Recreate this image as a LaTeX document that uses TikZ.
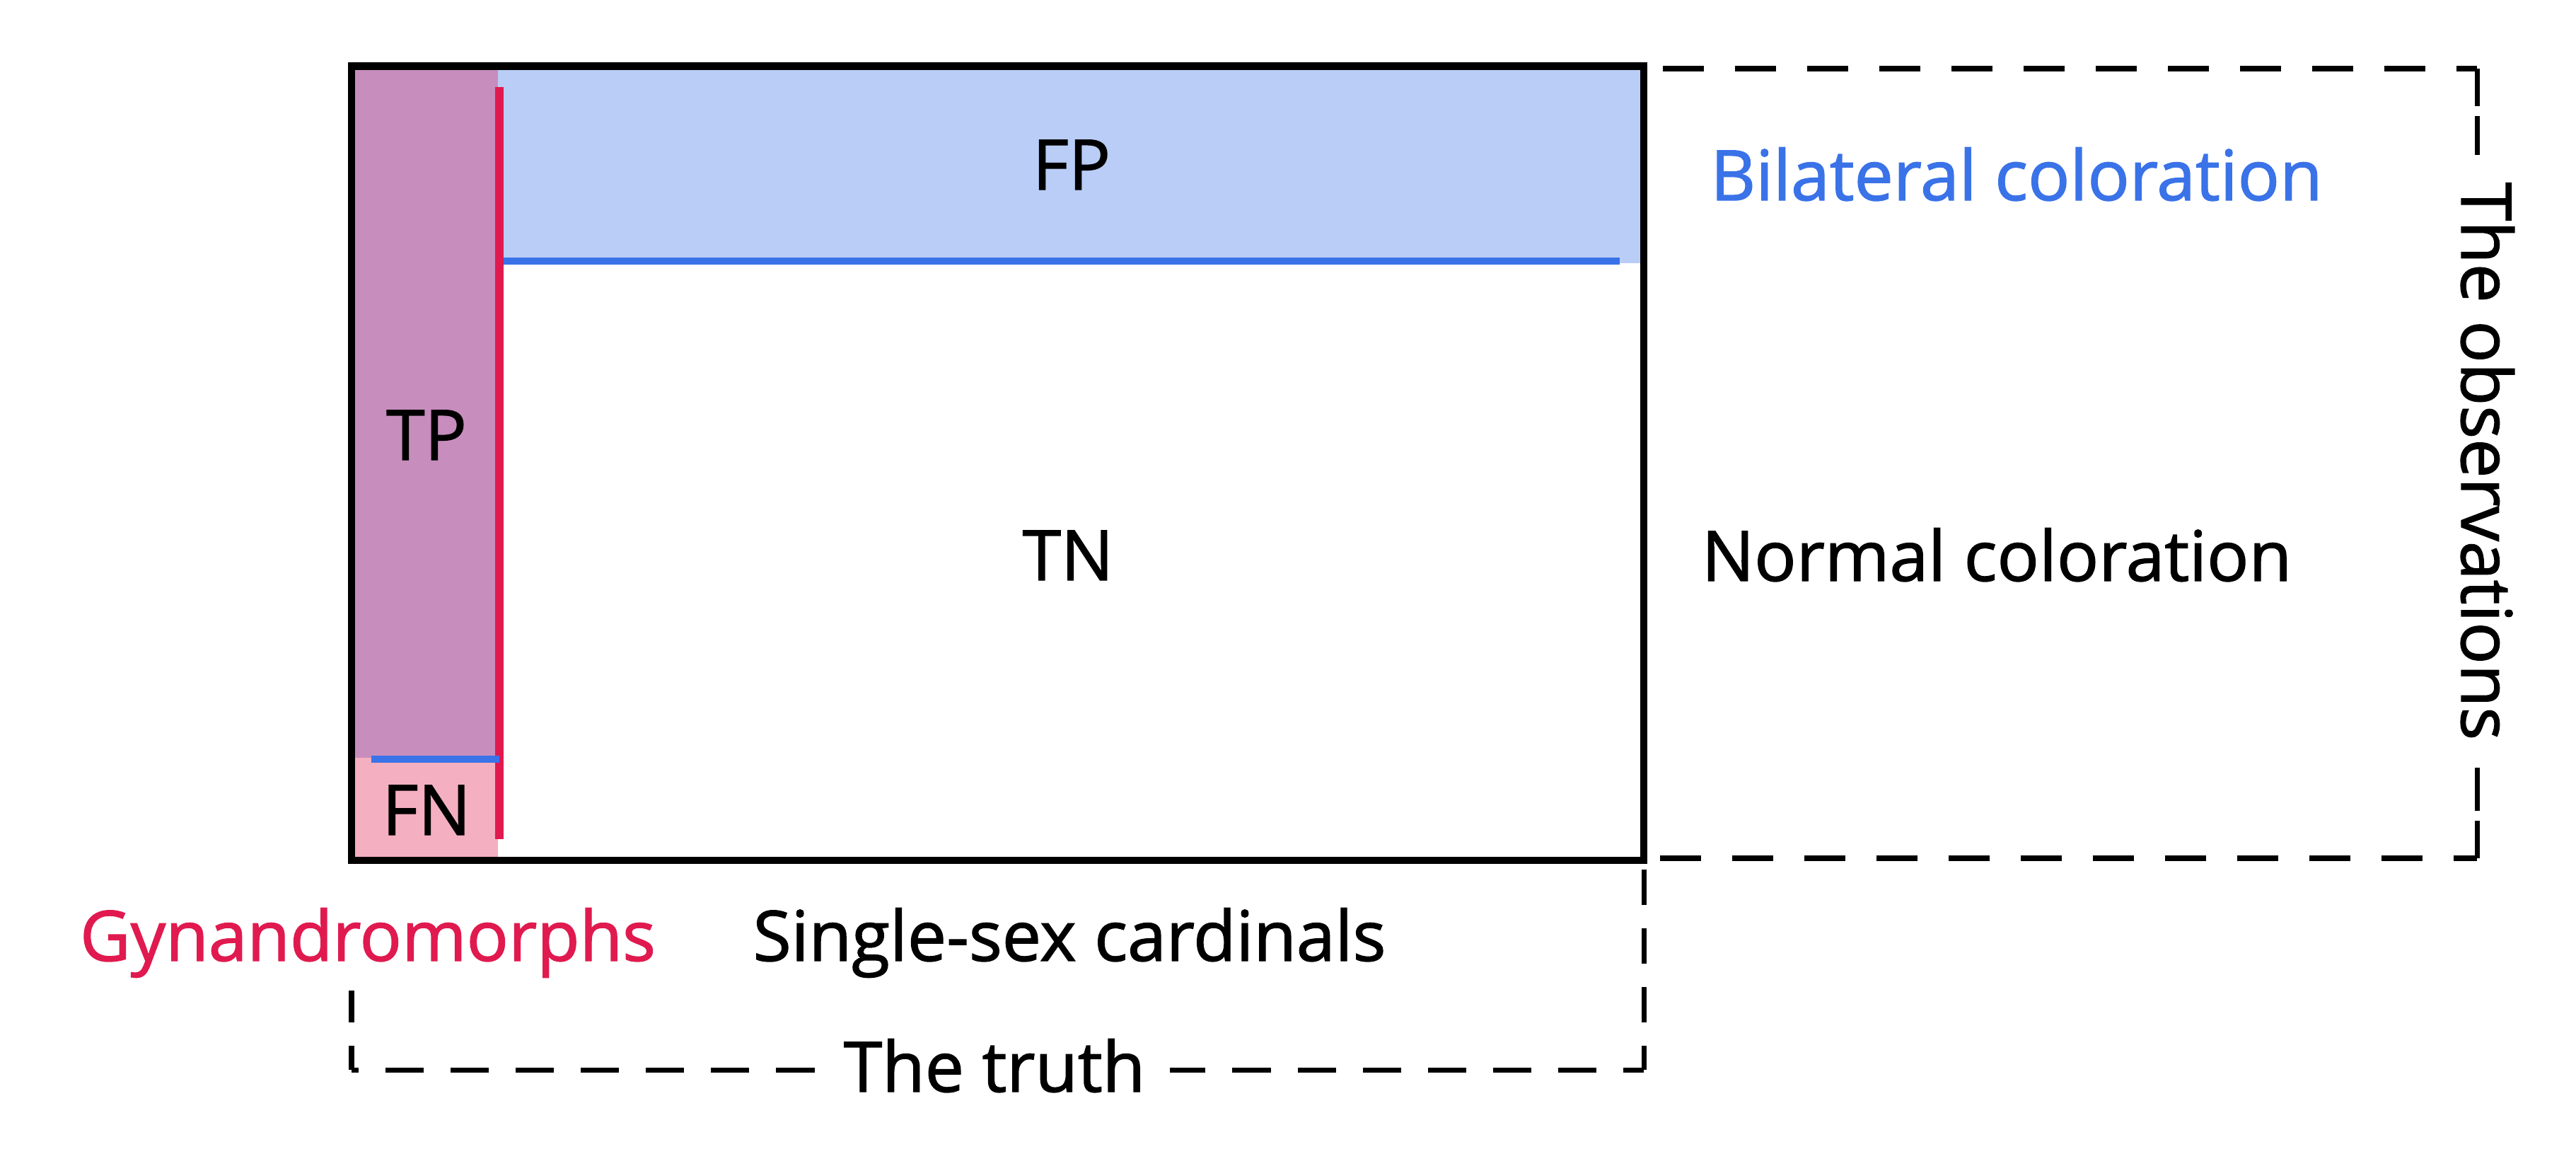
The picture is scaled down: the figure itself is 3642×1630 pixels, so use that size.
\documentclass[tikz,border=0pt]{standalone}
\usepackage{fontspec}
\setmainfont{Open Sans}[UprightFeatures={FakeBold=1.4}]
\definecolor{tpfill}{HTML}{C78DBD}
\definecolor{fnfill}{HTML}{F4AFC0}
\definecolor{fpfill}{HTML}{BACDF6}
\definecolor{bluec}{HTML}{3A72E8}
\definecolor{redc}{HTML}{E01A4F}
\begin{document}
\begin{tikzpicture}[x=0.01cm,y=-0.01cm,
  lbl/.style={font=\fontsize{28}{34}\selectfont, inner sep=0pt, anchor=base},
  dsh/.style={line width=2pt},
  hdash/.style={dash pattern=on 16.5pt off 12.5pt},
  vdash/.style={dash pattern=on 14.2pt off 9.4pt},
  tdash/.style={dash pattern=on 15.4pt off 10.8pt}]
\useasboundingbox (0,0) rectangle (3642,1630);
% fills
\fill[tpfill] (497,93.5) rectangle (704,1071);
\fill[fnfill] (497,1071) rectangle (704,1216);
\fill[fpfill] (704,93.5) rectangle (2324,372);
% observations dashed box
\coordinate (oTL) at (2324,97);
\coordinate (oTR) at (3502,97);
\coordinate (oBR) at (3502,1213);
\coordinate (oBL) at (2324,1213);
\draw[dsh,hdash,dash phase=8.25pt] (oTR) -- (oTL);
\draw[dsh,vdash,dash phase=4.5pt] (oTR) -- (oBR);
\draw[dsh,vdash,dash phase=4.5pt] (oBR) -- (oTR);
\draw[dsh,hdash,dash phase=7pt] (oBR) -- (oBL);
% truth dashed box
\coordinate (tTR) at (2324,1216);
\coordinate (tBR) at (2324,1512);
\coordinate (tBL) at (497,1512);
\coordinate (tLE) at (497,1400);
\draw[dsh,vdash,dash phase=4.5pt] (tBR) -- (tTR);
\draw[dsh,tdash,dash phase=7.2pt] (tBR) -- (tBL);
\draw[dsh,vdash,dash phase=4.5pt] (tBL) -- (tLE);
% outer box
\draw[line width=3.05pt] (497,93.5) rectangle (2324,1216);
% lines
\draw[line width=3.4pt, redc] (706,123) -- (706,1186);
\draw[line width=3.1pt, bluec] (712,369) -- (2290,369);
\draw[line width=3.1pt, bluec] (525,1073) -- (706,1073);
% labels
\node[lbl] (fp) at (1515,268) {FP};
\node[lbl] (tn) at (1510,820) {TN};
\node[lbl] (tp) at (603,650) {TP};
\node[lbl] (fn) at (603,1180) {FN};
\node[lbl, text=bluec] (bil) at (2851,283) {Bilateral coloration};
\node[lbl] (norm) at (2823,821) {Normal coloration};
\node[lbl, text=redc, fill=white, inner xsep=3pt, inner ysep=4pt] (gyn) at (520,1358) {Gynandromorphs};
\node[lbl] (single) at (1512,1358) {Single-sex cardinals};
\node[lbl, fill=white, inner xsep=10pt, inner ysep=3pt] (truth) at (1406,1543) {The truth};
\node[lbl, rotate=-90, fill=white, inner xsep=11pt, inner ysep=3pt] (obs) at (3480,652) {The observations};
\end{tikzpicture}
\end{document}
